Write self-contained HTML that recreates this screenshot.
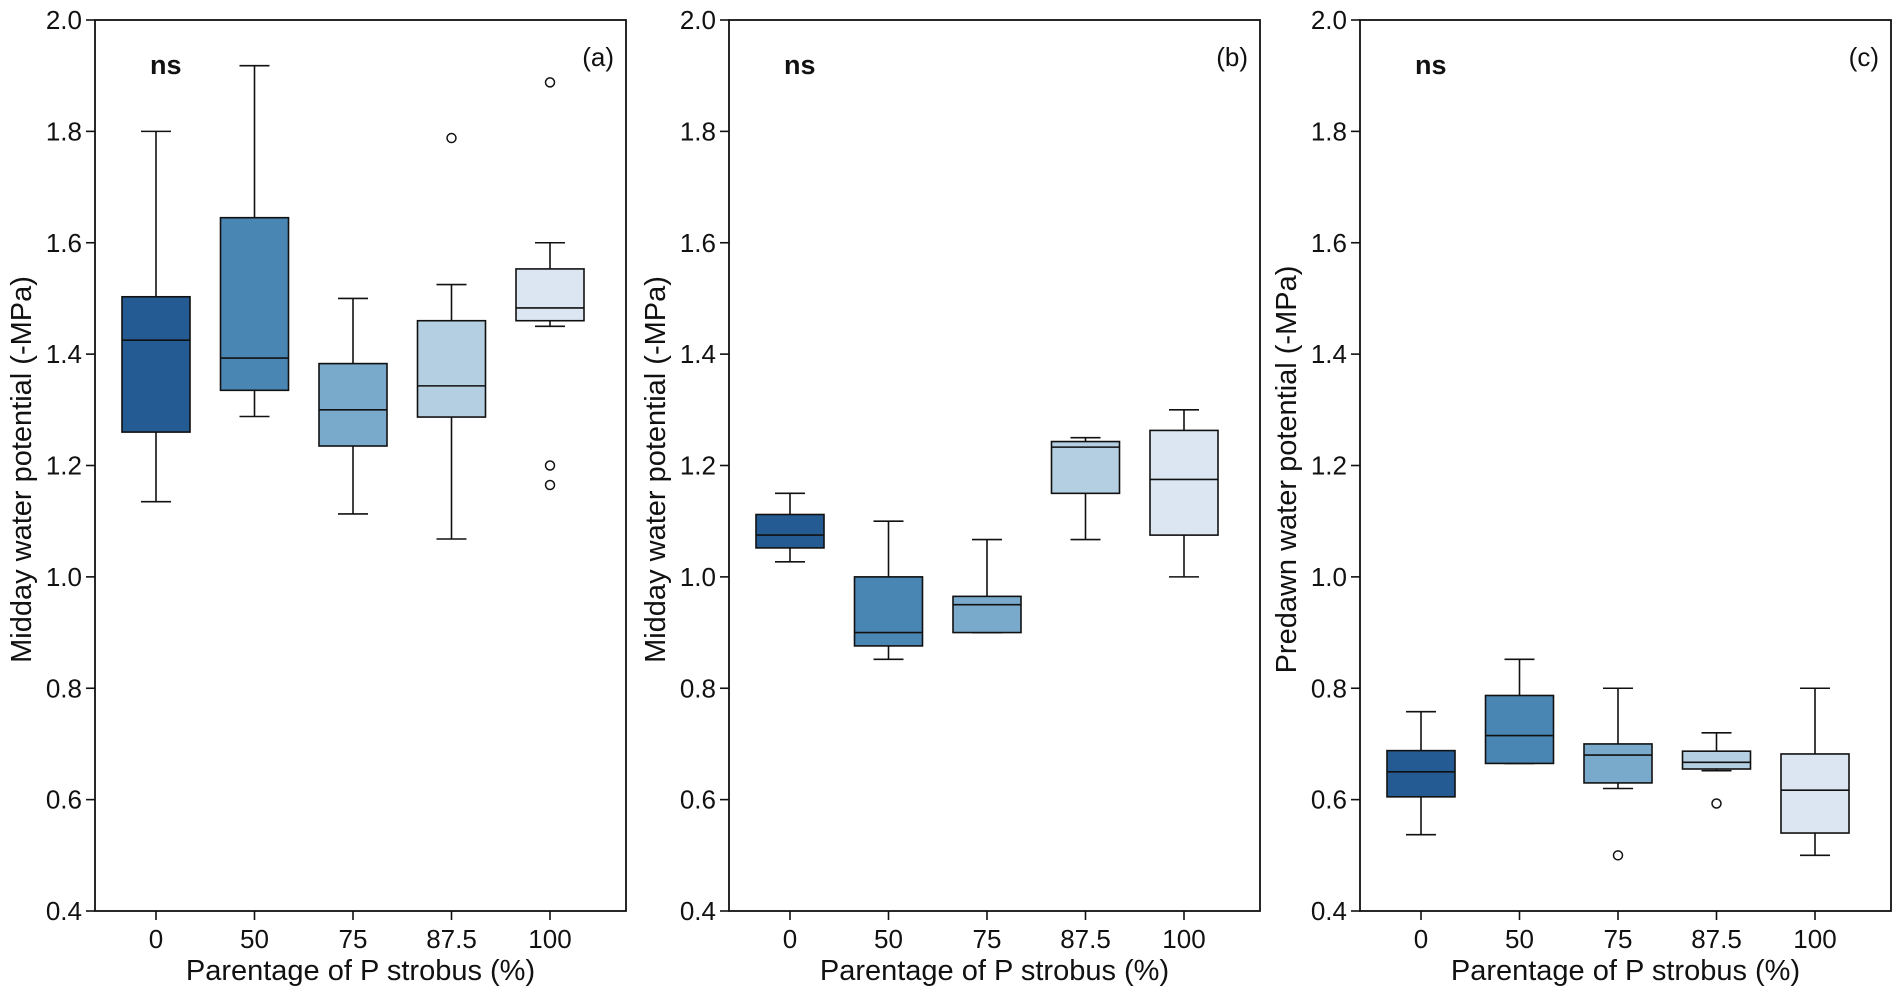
<!DOCTYPE html>
<html><head><meta charset="utf-8"><style>
html,body{margin:0;padding:0;background:#fff;}
svg{display:block;font-family:"Liberation Sans",Arial,sans-serif;}
</style></head><body>
<svg id="chart" width="1901" height="993" viewBox="0 0 1901 993"></svg>
<script>
const categories = ["0","50","75","87.5","100"];
const yTicks = [0.4,0.6,0.8,1.0,1.2,1.4,1.6,1.8,2.0];
const colors = ["#245b93","#4a86b4","#7aaacb","#b3cfe1","#dbe6f2"];
const panelLetters = ["(a)","(b)","(c)"];
const yTitles = ["Midday water potential (-MPa)","Midday water potential (-MPa)","Predawn water potential  (-MPa)"];
// [low, q1, median, q3, high]
const statsA = [[1.135,1.26,1.425,1.503,1.80],[1.288,1.335,1.393,1.645,1.918],[1.113,1.235,1.30,1.383,1.50],[1.068,1.287,1.343,1.46,1.525],[1.45,1.46,1.483,1.553,1.60]];
const outliersA = [[],[],[],[1.788],[1.888,1.20,1.165]];
const statsB = [[1.027,1.052,1.075,1.112,1.15],[0.852,0.876,0.90,1.0,1.10],[0.90,0.90,0.95,0.965,1.067],[1.067,1.15,1.233,1.243,1.25],[1.0,1.075,1.175,1.263,1.30]];
const outliersB = [[],[],[],[],[]];
const statsC = [[0.537,0.605,0.65,0.688,0.758],[0.665,0.665,0.715,0.787,0.852],[0.62,0.63,0.68,0.70,0.80],[0.652,0.655,0.667,0.687,0.72],[0.50,0.54,0.617,0.682,0.80]];
const outliersC = [[],[],[0.50],[0.593],[]];

const svg = document.getElementById('chart');
const NS = 'http://www.w3.org/2000/svg';
function mk(tag, attrs, parent){const e=document.createElementNS(NS,tag);for(const k in attrs)e.setAttribute(k,attrs[k]);(parent||svg).appendChild(e);return e;}

const panels = [{left:95,stats:statsA,out:outliersA},{left:729,stats:statsB,out:outliersB},{left:1360,stats:statsC,out:outliersC}];
const W = 531, TOP = 20, BOT = 911, YMIN = 0.4, YMAX = 2.0;
function yScale(v){return BOT - (v-YMIN)/(YMAX-YMIN)*(BOT-TOP);}

panels.forEach((p,pi)=>{
  const g = mk('g',{});
  
  
  const L=p.left, R=L+W;
  const xScale = i => L+61 + i*98.5;
  p.stats.forEach((s,i)=>{
    const cx=xScale(i), bw=68, cap=30;
    const bg = mk('g',{},g);
    
    
    mk('line',{x1:cx,x2:cx,y1:yScale(s[4]),y2:yScale(s[3]),stroke:'#111','stroke-width':1.6},bg);
    mk('line',{x1:cx,x2:cx,y1:yScale(s[1]),y2:yScale(s[0]),stroke:'#111','stroke-width':1.6},bg);
    mk('line',{x1:cx-cap/2,x2:cx+cap/2,y1:yScale(s[4]),y2:yScale(s[4]),stroke:'#111','stroke-width':1.6},bg);
    mk('line',{x1:cx-cap/2,x2:cx+cap/2,y1:yScale(s[0]),y2:yScale(s[0]),stroke:'#111','stroke-width':1.6},bg);
    mk('rect',{x:cx-bw/2,y:yScale(s[3]),width:bw,height:Math.max(1,yScale(s[1])-yScale(s[3])),fill:colors[i],stroke:'#111','stroke-width':1.6},bg);
    mk('line',{x1:cx-bw/2,x2:cx+bw/2,y1:yScale(s[2]),y2:yScale(s[2]),stroke:'#111','stroke-width':1.6},bg);
    p.out[i].forEach(o=>{
      const c = mk('circle',{cx:cx,cy:yScale(o),r:4.5,fill:'#fff',stroke:'#111','stroke-width':1.5},bg);
      
      
    });
    const t = mk('text',{x:cx,y:948,'text-anchor':'middle','font-size':26,fill:'#111'},g);
    t.textContent=categories[i];
    
    
    mk('line',{x1:cx,x2:cx,y1:BOT,y2:BOT+9,stroke:'#111','stroke-width':1.6},g);
  });
  const fr = mk('rect',{x:L,y:TOP,width:W,height:BOT-TOP,fill:'none',stroke:'#111','stroke-width':1.8},g);
  
  
  yTicks.forEach(v=>{
    const y=yScale(v);
    mk('line',{x1:L-9,x2:L,y1:y,y2:y,stroke:'#111','stroke-width':1.6},g);
    const t = mk('text',{x:L-13,y:y+9,'text-anchor':'end','font-size':26,fill:'#111'},g);
    t.textContent=v.toFixed(1);
    
    
  });
  const ns = mk('text',{x:L+55,y:74,'font-size':27,'font-weight':'bold',fill:'#111'},g);
  ns.textContent='ns';
  
  
  const lt = mk('text',{x:R-12,y:66,'text-anchor':'end','font-size':26,fill:'#111'},g);
  lt.textContent=panelLetters[pi];
  
  
  const xt = mk('text',{x:L+W/2,y:980,'text-anchor':'middle','font-size':29,fill:'#111'},g);
  xt.textContent='Parentage of P strobus (%)';
  
  
  const yc=(TOP+BOT)/2+4, yx=L-64;
  const yt = mk('text',{x:yx,y:yc,'text-anchor':'middle','font-size':29,fill:'#111',transform:`rotate(-90 ${yx} ${yc})`},g);
  yt.textContent=yTitles[pi];
  
  
});
</script>
</body></html>
